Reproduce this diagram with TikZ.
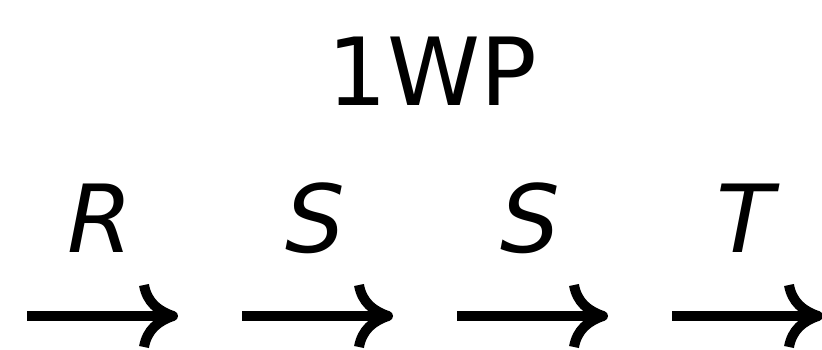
\documentclass[tikz,border=0pt]{standalone}
\usepackage{fontspec}
\setmainfont{DejaVu Sans}
\usetikzlibrary{calc}
\begin{document}
\begin{tikzpicture}[x=1pt,y=-1pt,
  bigtext/.style={font=\fontsize{94}{100}\selectfont, inner sep=0pt, anchor=base},
  label/.style={bigtext, font=\fontsize{94}{100}\selectfont\itshape},
  shaft/.style={line width=10pt, line cap=butt},
  barb/.style={line width=10pt, line cap=butt, line join=round}]
  \useasboundingbox (0,0) rectangle (822,349);
  \clip (0,0) rectangle (822,349);
  \node[bigtext] (title) at (432,105) {1WP};
  % four labelled long arrows, spaced 215 apart
  \foreach \i/\lab in {0/R,1/S,2/S,3/T} {
    \coordinate (s\i) at (27+215*\i,316);
    \coordinate (e\i) at (170+215*\i,316);
    \coordinate (t\i) at (173+215*\i,316);
    \node[label] (l\i) at (100+215*\i,252) {\lab};
    \draw[shaft] (s\i) -- (e\i);
    \draw[barb] ($(t\i)+(-29,-31)$) .. controls ($(t\i)+(-26,-14)$) and ($(t\i)+(-15,-5)$) .. (t\i)
      .. controls ($(t\i)+(-15,5)$) and ($(t\i)+(-26,14)$) .. ($(t\i)+(-29,31)$);
  }
\end{tikzpicture}
\end{document}
